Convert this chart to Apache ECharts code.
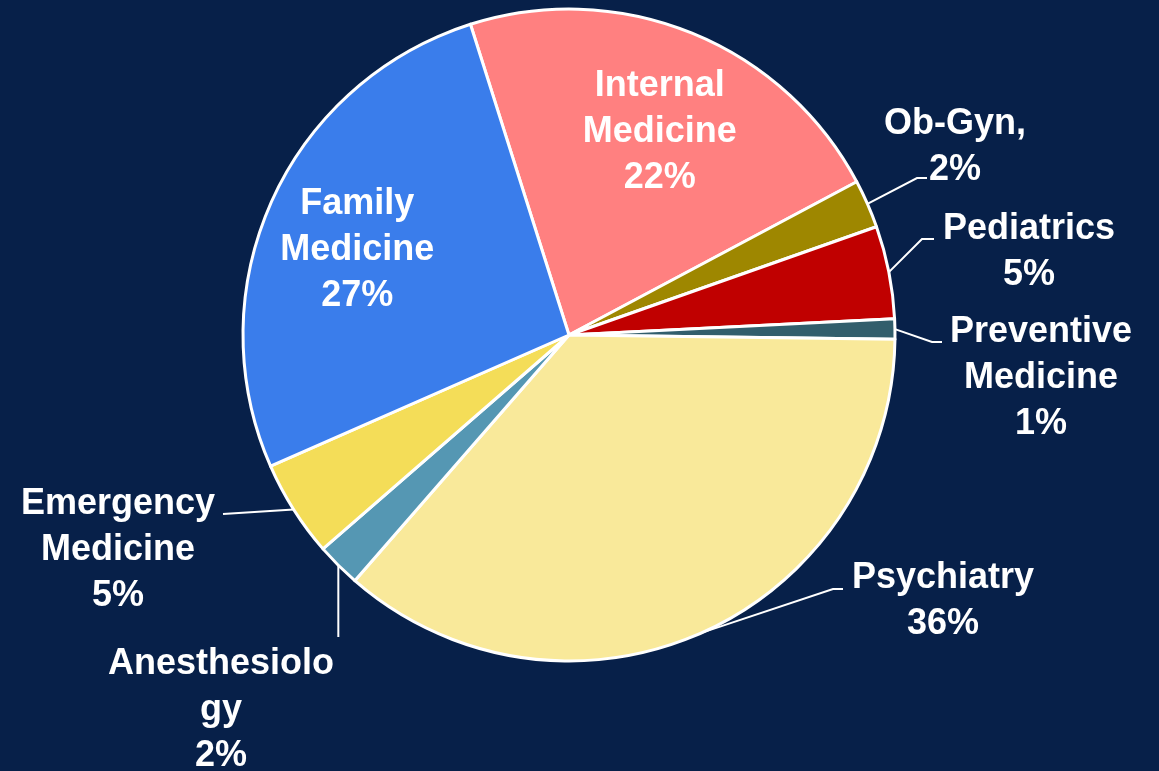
<!DOCTYPE html>
<html>
<head>
<meta charset="utf-8">
<script src="https://cdn.jsdelivr.net/npm/echarts@6/dist/echarts.min.js"></script>
<style>
html,body{margin:0;padding:0;background:#072049;}
#chart{width:1159px;height:771px;}
</style>
</head>
<body>
<div id="chart"></div>
<script>
// ---- data ----
const categories = ['Internal Medicine','Ob-Gyn','Pediatrics','Preventive Medicine','Psychiatry','Anesthesiology','Emergency Medicine','Family Medicine'];
const values = [22.1, 2.4, 4.6, 1.0, 36.2, 2.2, 4.8, 26.7];
const labelNames = ['Internal\nMedicine','Ob-Gyn,','Pediatrics','Preventive\nMedicine','Psychiatry','Anesthesiolo\ngy','Emergency\nMedicine','Family\nMedicine'];

// ---- styles / layout ----
const colors = ['#FF8080','#9E8700','#C00000','#325E6C','#F9E99A','#5597B3','#F4DD58','#3A7DEB'];
const CX = 569, CY = 335, R = 326;
// label placement (offsets from pie centre): inside labels scaled radially + nudge; outside: text centre, elbow, end of leader line
const labelPlaces = [
  {inside:true, scale:1.4, nudge:[3,12]},
  {text:[386,-188], elbow:[348,-157], end:[358,-157]},
  {text:[460,-83], elbow:[353,-96], end:[365,-96]},
  {text:[472,43], elbow:[363,7], end:[373,7]},
  {text:[374,266], elbow:[264,254], end:[274,254]},
  {text:[-348,375], elbow:null, end:[0,302], vertical:true},
  {text:[-451,215], elbow:null, end:[-346,179]},
  {inside:true, scale:1.4, nudge:[0,11]}
];

const chart = echarts.init(document.getElementById('chart'));
const data = categories.map((c,i)=>{
  const inside = !!labelPlaces[i].inside;
  return {
    name: c,
    value: values[i],
    itemStyle: {color: colors[i]},
    label: {position: inside ? 'inside' : 'outside'},
    labelLine: {show: !inside}
  };
});

chart.setOption({
  backgroundColor: '#072049',
  animation: false,
  series: [{
    type: 'pie',
    center: [CX, CY],
    radius: R,
    startAngle: 107.6,
    clockwise: true,
    percentPrecision: 0,
    avoidLabelOverlap: false,
    data: data,
    itemStyle: {borderColor: '#FFFFFF', borderWidth: 3},
    label: {
      show: true,
      color: '#FFFFFF',
      fontFamily: 'Liberation Sans, Arial, sans-serif',
      fontWeight: 'bold',
      fontSize: 36,
      lineHeight: 46,
      align: 'center',
      formatter: function(p){ return labelNames[p.dataIndex] + '\n' + p.percent + '%'; }
    },
    labelLine: {
      show: true,
      length: 20,
      length2: 10,
      lineStyle: {color: '#FFFFFF', width: 2}
    },
    labelLayout: function(params){
      const i = params.dataIndex;
      const L = labelPlaces[i];
      if (L.inside) {
        const lr = params.labelRect;
        const lx = lr.x + lr.width/2, ly = lr.y + lr.height/2;
        return {x: CX + (lx-CX)*L.scale + L.nudge[0], y: CY + (ly-CY)*L.scale + L.nudge[1], align:'center', verticalAlign:'middle'};
      }
      const res = {x: CX + L.text[0], y: CY + L.text[1], align:'center', verticalAlign:'middle'};
      const pts = params.labelLinePoints;
      if (pts && pts.length) {
        const p0 = pts[0];
        let end = [CX + L.end[0], CY + L.end[1]];
        if (L.vertical) end = [p0[0], CY + L.end[1]];
        const elbow = L.elbow ? [CX + L.elbow[0], CY + L.elbow[1]] : end;
        res.labelLinePoints = [p0, elbow, end];
      }
      return res;
    }
  }]
});
</script>
</body>
</html>
